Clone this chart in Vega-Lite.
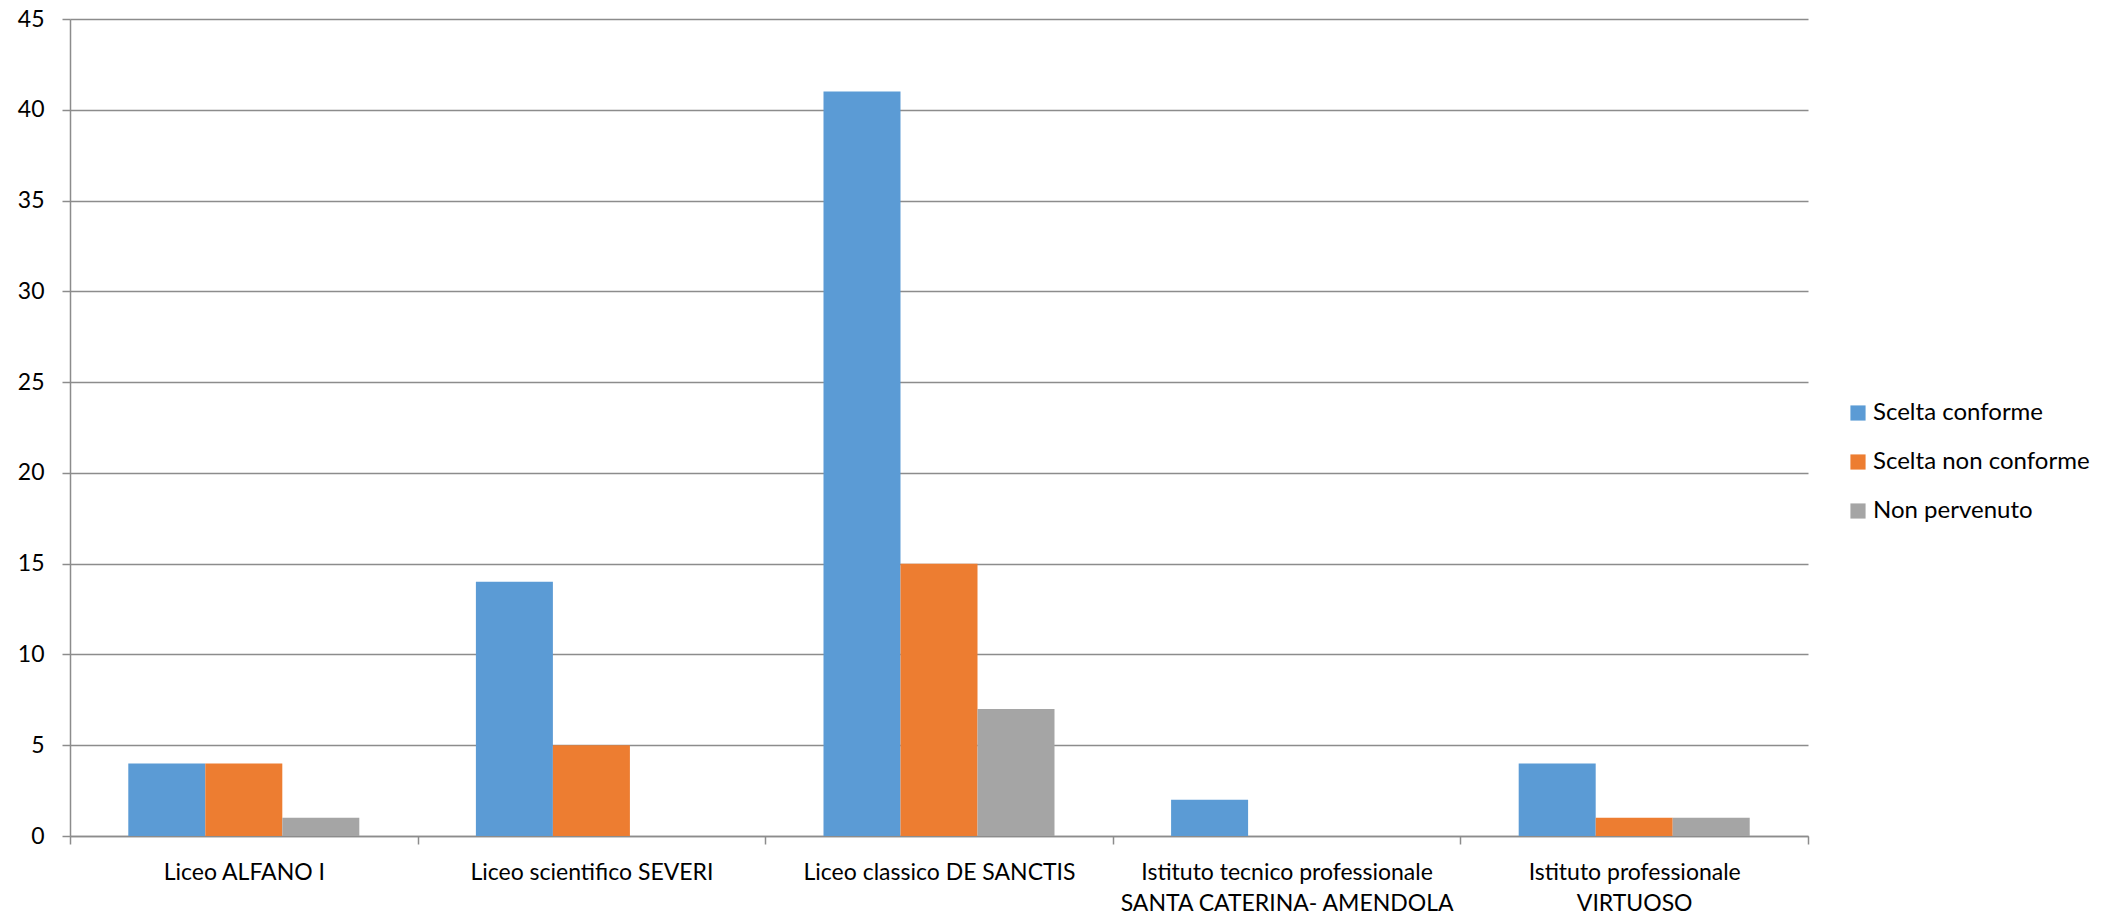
{
  "$schema": "https://vega.github.io/schema/vega-lite/v6.json",
  "autosize": "none",
  "padding": {"left": 70, "top": 19, "right": 316, "bottom": 78},
  "width": 1738,
  "height": 817,
  "background": "white",
  "config": {
    "font": "Lato",
    "view": {"stroke": null}
  },
  "data": {
    "values": [
      {"scuola": "Liceo ALFANO I", "categoria": "Scelta conforme", "valore": 4},
      {"scuola": "Liceo ALFANO I", "categoria": "Scelta non conforme", "valore": 4},
      {"scuola": "Liceo ALFANO I", "categoria": "Non pervenuto", "valore": 1},
      {"scuola": "Liceo scientifico SEVERI", "categoria": "Scelta conforme", "valore": 14},
      {"scuola": "Liceo scientifico SEVERI", "categoria": "Scelta non conforme", "valore": 5},
      {"scuola": "Liceo scientifico SEVERI", "categoria": "Non pervenuto", "valore": 0},
      {"scuola": "Liceo classico DE SANCTIS", "categoria": "Scelta conforme", "valore": 41},
      {"scuola": "Liceo classico DE SANCTIS", "categoria": "Scelta non conforme", "valore": 15},
      {"scuola": "Liceo classico DE SANCTIS", "categoria": "Non pervenuto", "valore": 7},
      {"scuola": "Istituto tecnico professionale SANTA CATERINA- AMENDOLA", "categoria": "Scelta conforme", "valore": 2},
      {"scuola": "Istituto tecnico professionale SANTA CATERINA- AMENDOLA", "categoria": "Scelta non conforme", "valore": 0},
      {"scuola": "Istituto tecnico professionale SANTA CATERINA- AMENDOLA", "categoria": "Non pervenuto", "valore": 0},
      {"scuola": "Istituto professionale VIRTUOSO", "categoria": "Scelta conforme", "valore": 4},
      {"scuola": "Istituto professionale VIRTUOSO", "categoria": "Scelta non conforme", "valore": 1},
      {"scuola": "Istituto professionale VIRTUOSO", "categoria": "Non pervenuto", "valore": 1}
    ]
  },
  "mark": {"type": "bar"},
  "encoding": {
    "x": {
      "field": "scuola",
      "type": "nominal",
      "sort": null,
      "title": null,
      "scale": {"paddingInner": 0, "paddingOuter": 0},
      "axis": {
        "tickBand": "extent",
        "labelAngle": 0,
        "labelFontSize": 23,
        "labelColor": "#000000",
        "labelPadding": 17,
        "labelLineHeight": 31,
        "labelBaseline": "top",
        "labelLimit": 600,
        "tickSize": 8,
        "tickColor": "#8c8c8c",
        "tickWidth": 1.5,
        "domainColor": "#8c8c8c",
        "domainWidth": 1.5,
        "grid": false,
        "labelExpr": "datum.value == 'Istituto tecnico professionale SANTA CATERINA- AMENDOLA' ? ['Istituto tecnico professionale', 'SANTA CATERINA- AMENDOLA'] : datum.value == 'Istituto professionale VIRTUOSO' ? ['Istituto professionale', 'VIRTUOSO'] : datum.value"
      }
    },
    "xOffset": {
      "field": "categoria",
      "type": "nominal",
      "sort": ["Scelta conforme", "Scelta non conforme", "Non pervenuto"],
      "scale": {"paddingInner": 0, "paddingOuter": 0.757}
    },
    "y": {
      "field": "valore",
      "type": "quantitative",
      "title": null,
      "scale": {"domain": [0, 45], "nice": false},
      "axis": {
        "values": [0, 5, 10, 15, 20, 25, 30, 35, 40, 45],
        "labelFontSize": 23,
        "labelColor": "#000000",
        "labelPadding": 18,
        "tickSize": 8,
        "tickColor": "#8c8c8c",
        "tickWidth": 1.5,
        "domainColor": "#8c8c8c",
        "domainWidth": 1.5,
        "grid": true,
        "gridColor": "#8c8c8c",
        "gridWidth": 1.5
      }
    },
    "color": {
      "field": "categoria",
      "type": "nominal",
      "sort": ["Scelta conforme", "Scelta non conforme", "Non pervenuto"],
      "scale": {
        "domain": ["Scelta conforme", "Scelta non conforme", "Non pervenuto"],
        "range": ["#5B9BD5", "#ED7D31", "#A5A5A5"]
      },
      "legend": {
        "title": null,
        "orient": "none",
        "legendX": 1776,
        "legendY": 382,
        "symbolType": "square",
        "symbolSize": 230,
        "symbolStrokeWidth": 0,
        "labelFontSize": 24,
        "labelColor": "#000000",
        "labelOffset": 3,
        "rowPadding": 25,
        "labelLimit": 400
      }
    }
  }
}
